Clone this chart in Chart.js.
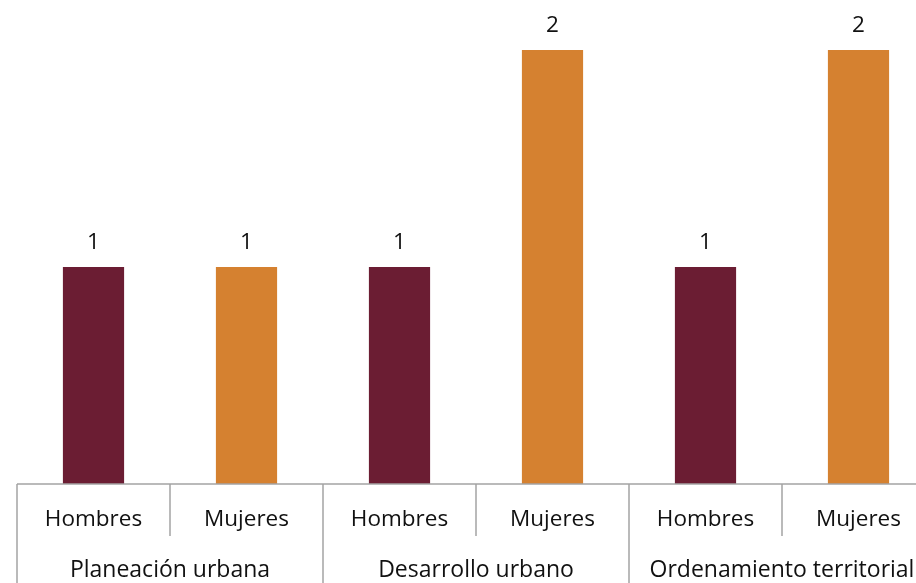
<!DOCTYPE html>
<html>
<head>
<meta charset="utf-8">
<script src="https://cdn.jsdelivr.net/npm/chart.js@4/dist/chart.umd.min.js"></script>
<style>
html,body{margin:0;padding:0;overflow:hidden;background:#fff;width:916px;height:583px;}
#wrap{position:absolute;left:0;top:0;width:935px;height:583px;}
</style>
</head>
<body>
<div id="wrap"><canvas id="c"></canvas></div>
<script>
const categories = ["Hombres", "Mujeres", "Hombres", "Mujeres", "Hombres", "Mujeres"];
const groups = ["Planeación urbana", "Desarrollo urbano", "Ordenamiento territorial"];
const values = [1, 1, 1, 2, 1, 2];
const barColors = ["#6B1D33", "#D58130", "#6B1D33", "#D58130", "#6B1D33", "#D58130"];

const FONT = "'Open Sans', sans-serif";
const LINE = "#A3A3A3";

const multiAxis = {
  id: "multiAxis",
  afterDraw(chart) {
    const ctx = chart.ctx;
    const x = chart.scales.x;
    const area = chart.chartArea;
    const n = categories.length;
    const p = i => x.getPixelForValue(i);
    const step = p(1) - p(0);
    const edge = i => p(0) + (i - 0.5) * step;
    const y0 = area.bottom;
    ctx.save();
    ctx.strokeStyle = LINE;
    ctx.lineWidth = 1.5;
    ctx.beginPath();
    ctx.moveTo(edge(0), y0);
    ctx.lineTo(edge(n), y0);
    ctx.stroke();
    for (let i = 0; i <= n; i++) {
      const ex = edge(i);
      const bottom = (i % 2 === 0) ? chart.height : y0 + 52;
      ctx.beginPath();
      ctx.moveTo(ex, y0);
      ctx.lineTo(ex, bottom);
      ctx.stroke();
    }
    ctx.fillStyle = "#111";
    ctx.font = "22.5px " + FONT;
    ctx.textAlign = "center";
    ctx.textBaseline = "middle";
    categories.forEach((c, i) => ctx.fillText(c, p(i), y0 + 36));
    ctx.font = "23px " + FONT;
    groups.forEach((g, j) => ctx.fillText(g, edge(2 * j + 1), y0 + 86));
    // data labels
    ctx.font = "22.5px " + FONT;
    const meta = chart.getDatasetMeta(0);
    meta.data.forEach((el, i) => {
      ctx.fillText(String(values[i]), el.x, el.y - 24);
    });
    ctx.restore();
  }
};

new Chart(document.getElementById("c"), {
  type: "bar",
  data: {
    labels: categories,
    datasets: [{
      data: values,
      backgroundColor: barColors,
      borderWidth: 0,
      categoryPercentage: 1,
      barPercentage: 0.4
    }]
  },
  options: {
    responsive: true,
    maintainAspectRatio: false,
    animation: false,
    layout: { padding: { left: 17, top: 50, right: 0, bottom: 0 } },
    plugins: { legend: { display: false }, tooltip: { enabled: false } },
    scales: {
      x: {
        display: true,
        grid: { display: false },
        border: { display: false },
        ticks: { display: false },
        afterFit(scale) { scale.height = 99; }
      },
      y: {
        display: false,
        min: 0,
        max: 2
      }
    }
  },
  plugins: [multiAxis]
});
</script>
</body>
</html>
